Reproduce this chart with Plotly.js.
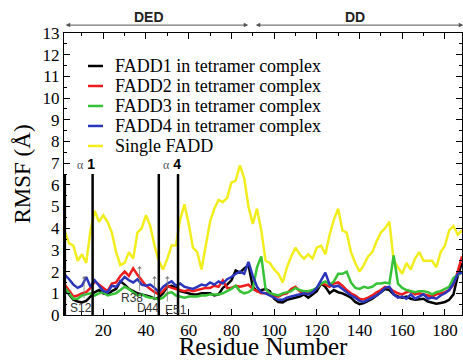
<!DOCTYPE html>
<html><head><meta charset="utf-8">
<script src="https://cdn.plot.ly/plotly-3.0.1.min.js"></script>
<style>html,body{margin:0;padding:0;background:#fff}#chart{width:463px;height:360px}</style>
</head><body><div id="chart"></div>
<script>
const residues = [2,4,6,8,10,12,14,16,18,20,22,24,26,28,30,32,34,36,38,40,42,44,46,48,50,52,54,56,58,60,62,64,66,68,70,72,74,76,78,80,82,84,86,88,90,92,94,96,98,100,102,104,106,108,110,112,114,116,118,120,122,124,126,128,130,132,134,136,138,140,142,144,146,148,150,152,154,156,158,160,162,164,166,168,170,172,174,176,178,180,182,184,186,188];

const fadd1 = [1.20,0.95,0.70,0.62,0.58,0.65,0.85,1.05,1.15,1.00,
  0.95,1.10,1.20,1.55,1.40,1.20,1.10,1.00,0.95,0.90,
  0.85,0.75,0.80,1.00,1.30,1.35,1.25,1.10,1.05,1.00,
  0.95,0.95,1.00,1.00,1.00,0.90,0.95,1.25,1.40,1.60,
  2.05,1.95,2.15,2.30,1.30,1.10,1.15,1.20,1.10,0.75,
  0.60,0.58,0.70,0.75,0.80,0.85,0.95,0.80,0.95,1.10,
  1.45,1.30,1.00,1.15,1.05,1.00,0.90,0.80,0.60,0.50,
  0.55,0.65,0.75,0.90,1.05,1.20,1.15,0.95,0.85,0.80,
  0.85,0.75,0.70,0.72,0.75,0.62,0.58,0.52,0.55,0.60,
  0.70,0.95,1.80,2.40];

const fadd2 = [1.40,1.10,0.85,0.90,1.00,1.05,1.25,1.55,1.40,1.25,
  1.10,1.45,1.50,1.80,2.00,1.80,2.15,1.85,1.60,1.35,
  1.20,1.05,0.95,1.10,1.35,1.25,1.20,1.15,1.10,1.15,
  1.10,1.15,1.20,1.25,1.25,1.35,1.30,1.60,1.25,1.25,
  1.35,1.30,1.35,1.40,1.20,1.10,1.00,1.00,1.00,0.90,
  0.85,0.95,1.00,1.20,1.30,1.10,1.00,1.05,1.10,1.25,
  1.45,1.40,1.30,1.45,1.50,1.35,1.15,1.00,0.90,0.75,
  0.72,0.80,0.90,1.05,1.15,1.30,1.25,1.10,1.00,0.95,
  1.05,1.10,0.95,1.00,0.95,0.90,0.85,0.95,1.00,1.05,
  1.15,1.40,2.00,2.70];

const fadd3 = [1.25,1.00,0.75,0.75,0.90,0.95,1.00,0.90,1.00,1.05,
  0.90,0.95,1.00,1.15,1.30,1.20,1.05,0.90,0.95,0.85,
  0.80,0.78,0.72,0.80,1.00,1.05,0.90,0.85,0.80,0.85,
  0.85,0.85,0.90,0.90,0.95,0.95,0.95,1.00,1.10,1.20,
  1.35,1.10,1.00,1.05,1.20,2.20,2.70,1.20,1.00,0.95,
  0.90,1.00,1.05,1.10,1.25,1.15,1.10,1.10,1.15,1.25,
  1.45,1.55,1.40,1.55,1.90,1.90,2.00,1.50,1.25,1.20,
  1.30,1.25,1.30,1.45,1.45,1.50,1.45,2.75,1.45,1.25,
  1.15,1.10,1.05,1.10,1.10,1.05,0.95,1.05,1.10,1.20,
  1.30,1.70,1.85,1.95];

const fadd4 = [1.85,1.65,1.40,1.25,1.35,1.75,1.30,1.60,1.35,1.10,
  1.05,1.35,1.30,1.55,1.75,1.60,1.50,1.65,1.40,1.35,
  1.40,1.25,1.05,1.30,1.45,1.55,1.35,1.45,1.30,1.25,
  1.20,1.30,1.40,1.35,1.50,1.40,1.55,1.45,1.65,1.75,
  1.90,2.00,1.90,2.45,1.80,1.30,1.05,1.00,0.90,0.80,
  0.70,0.70,0.80,0.85,0.90,0.95,1.00,0.95,1.05,1.25,
  1.60,1.95,1.40,1.30,1.35,1.20,1.05,0.90,0.80,0.65,
  0.60,0.70,0.80,0.90,1.05,1.25,1.30,0.95,0.80,0.85,
  0.75,0.95,0.75,0.85,0.95,0.75,0.80,0.75,0.90,1.00,
  1.15,1.45,1.90,1.95];

const singleFadd = [3.85,3.3,3.2,2.5,2.8,2.4,3.9,4.8,4.3,4.6,
  4.3,3.8,2.9,2.3,2.4,2.9,2.6,3.8,4.0,4.6,
  4.1,3.2,2.5,2.1,2.6,3.2,3.2,4.4,5.1,4.2,
  3.1,2.9,2.1,3.3,4.3,4.9,5.3,5.2,5.4,6.1,
  6.2,6.9,6.3,5.0,4.2,4.9,3.9,2.5,2.4,2.1,
  1.9,1.5,2.2,2.7,3.1,2.8,2.6,2.8,2.6,3.1,
  3.2,2.8,3.7,4.4,4.9,3.9,3.8,2.9,2.4,2.0,
  2.3,2.7,2.9,3.4,3.8,4.0,4.3,2.5,2.2,1.9,
  2.4,2.1,2.6,2.9,2.5,2.5,2.5,2.2,2.9,3.2,
  3.9,4.1,3.7,3.9];

const seriesNames = ['FADD1 in tetramer complex','FADD2 in tetramer complex','FADD3 in tetramer complex','FADD4 in tetramer complex','Single FADD'];
const helixBounds = [2, 15, 46, 55];
const helixNumbers = ['1', '4'];
const keyResidues = [11, 37, 44, 50];
const keyLabels = ['S12', 'R38', 'D44', 'E51'];
const domainNames = ['DED', 'DD'];
const domainStarts = [1.7, 90.7];
const domainEnds = [87.9, 188.6];

const serif = 'Liberation Serif, Times New Roman, serif';
const sans = 'Liberation Sans, Arial, sans-serif';
const colors = ['#000000', '#ee1c1c', '#36c236', '#2b35bb', '#f2ee1e'];
const allSeries = [fadd1, fadd2, fadd3, fadd4, singleFadd];
const drawOrder = [4, 0, 1, 2, 3];

const traces = drawOrder.map(i => ({
  x: residues, y: allSeries[i], type: 'scatter', mode: 'lines',
  name: seriesNames[i], legendrank: i + 1, showlegend: false,
  line: {color: colors[i], width: 2.5}
}));

const shapes = helixBounds.map(r => ({
  type: 'line', xref: 'x', yref: 'y', x0: r, x1: r, y0: 0, y1: 6.5,
  line: {color: '#000', width: 2.5}
}));

const annotations = [];

// legend (drawn by hand to match the compact spacing of the original)
const legX0 = 0.0603, legX1 = 0.098, legTextX = 0.123;
const legRowTop = 0.883, legRowStep = 0.0709;
seriesNames.forEach((name, i) => {
  const y = legRowTop - i * legRowStep;
  shapes.push({type: 'line', xref: 'paper', yref: 'paper', x0: legX0, x1: legX1, y0: y, y1: y,
    line: {color: colors[i], width: 2.5}});
  annotations.push({xref: 'paper', yref: 'paper', x: legTextX, y: y, xanchor: 'left', yanchor: 'middle',
    showarrow: false, text: name, font: {family: serif, size: 18, color: '#000'}});
});

// helix labels
[[helixBounds[1], helixNumbers[0]], [helixBounds[3], helixNumbers[1]]].forEach(([r, n]) => {
  annotations.push({
    xref: 'x', yref: 'y', x: r + 2.2, y: 6.95, xanchor: 'right', yanchor: 'middle',
    showarrow: false,
    text: '<span style="font-family:Liberation Serif;font-size:12px;color:#555">α</span> <b>' + n + '</b>',
    font: {family: sans, size: 14, color: '#000'}
  });
});
// residue labels and arrows
const labelPos = [[9.6, 0.33], [33.5, 0.79], [40.9, 0.33], [54.0, 0.25]];
const arrowHead = [1.79, 2.25, 1.79, 1.79];
const arrowTail = [0.7, 1.05, 0.6, 0.55];
keyLabels.forEach((lab, i) => {
  annotations.push({
    xref: 'x', yref: 'y', x: labelPos[i][0], y: labelPos[i][1], showarrow: false,
    text: lab, font: {family: sans, size: 12, color: '#333'}, xanchor: 'center', yanchor: 'middle'
  });
  annotations.push({
    xref: 'x', yref: 'y', axref: 'x', ayref: 'y', x: keyResidues[i], y: arrowHead[i],
    ax: keyResidues[i], ay: arrowTail[i], text: '', showarrow: true,
    arrowhead: 1, arrowsize: 1, arrowwidth: 0.8, arrowcolor: '#777'
  });
});
// domain arrows
const domainLabelX = [41.6, 138];
domainNames.forEach((d, i) => {
  annotations.push({
    xref: 'x', yref: 'paper', axref: 'x', ayref: 'pixel',
    x: domainEnds[i], y: 1.028, ax: domainStarts[i], ay: 0, text: '',
    showarrow: true, arrowside: 'end+start', arrowhead: 2, arrowsize: 0.9,
    arrowwidth: 1, arrowcolor: '#555'
  });
  annotations.push({
    xref: 'x', yref: 'paper', x: domainLabelX[i], y: 1.057, showarrow: false,
    text: '<b>' + d + '</b>', font: {family: sans, size: 14, color: '#222'},
    xanchor: 'center', yanchor: 'middle'
  });
});

const axisCommon = {
  showgrid: false, zeroline: false, showline: true, linecolor: '#000', linewidth: 1,
  mirror: 'ticks', ticks: 'inside', ticklen: 6, tickwidth: 1, tickcolor: '#000',
  tickfont: {family: serif, size: 17, color: '#000'}
};

const layout = {
  width: 463, height: 360,
  margin: {l: 64, r: 1, t: 33, b: 45, pad: 0},
  paper_bgcolor: '#fff', plot_bgcolor: '#fff',
  showlegend: false,
  xaxis: Object.assign({}, axisCommon, {
    range: [1.6, 188], tick0: 0, dtick: 20,
    minor: {dtick: 10, ticks: 'inside', ticklen: 3, tickcolor: '#000', tickwidth: 1},
    title: {text: 'Residue Number', font: {family: serif, size: 25, color: '#000'}, standoff: 4}
  }),
  yaxis: Object.assign({}, axisCommon, {
    range: [0, 13], tick0: 0, dtick: 1,
    minor: {dtick: 0.5, ticks: 'inside', ticklen: 3, tickcolor: '#000', tickwidth: 1},
    title: {text: 'RMSF (Å)', font: {family: serif, size: 23, color: '#000'}, standoff: 5}
  }),
  shapes: shapes,
  annotations: annotations
};

Plotly.newPlot('chart', traces, layout, {displayModeBar: false, staticPlot: true});
</script></body></html>
